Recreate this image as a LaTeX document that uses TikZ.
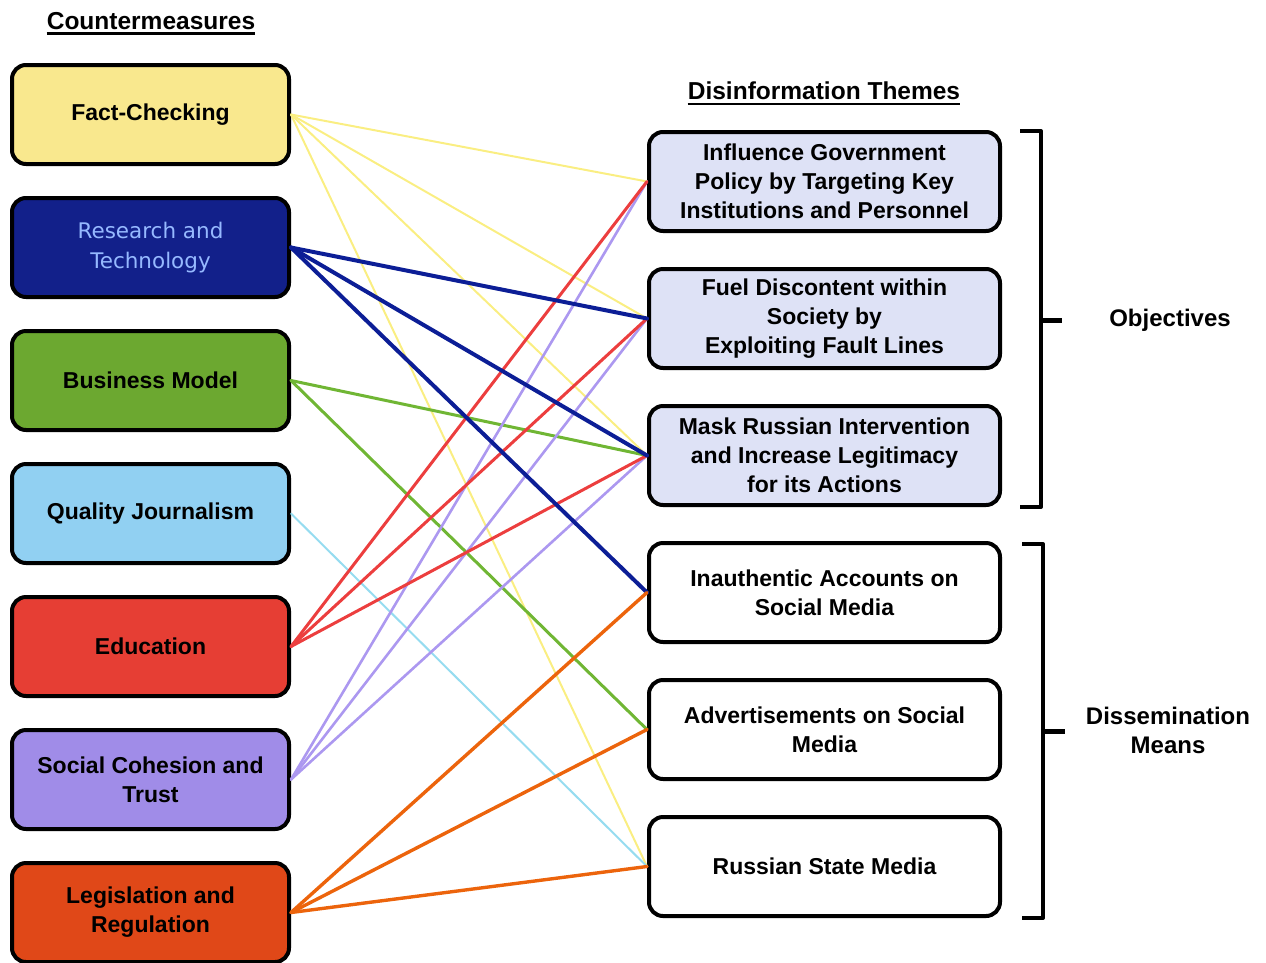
\documentclass[tikz,border=0pt]{standalone}
\usepackage{fontspec}
\setmainfont{Liberation Sans}
\newfontfamily\lightfont{DejaVu Sans}
\definecolor{cfact}{RGB}{249,232,142}
\definecolor{cres}{RGB}{18,32,138}
\definecolor{crestext}{RGB}{150,185,255}
\definecolor{cbus}{RGB}{108,168,48}
\definecolor{cqual}{RGB}{145,208,242}
\definecolor{cedu}{RGB}{230,62,52}
\definecolor{csoc}{RGB}{160,140,232}
\definecolor{cleg}{RGB}{224,72,24}
\definecolor{cobj}{RGB}{222,226,246}
\definecolor{lyel}{RGB}{250,238,130}
\definecolor{lblue}{RGB}{12,30,150}
\definecolor{lgreen}{RGB}{112,182,52}
\definecolor{lcyan}{RGB}{150,220,240}
\definecolor{lred}{RGB}{236,62,62}
\definecolor{llav}{RGB}{172,152,240}
\definecolor{lorange}{RGB}{236,100,12}
\begin{document}
\begin{tikzpicture}[x=1pt,y=-1pt,
  box/.style={draw=black, line width=4pt, rounded corners=14pt,
    minimum width=277pt, minimum height=99pt, align=center, inner sep=2pt,
    font=\bfseries\fontsize{23}{29}\selectfont},
  theme/.style={box, minimum width=351pt},
  title/.style={inner sep=0pt, font=\bfseries\fontsize{24.5}{29}\selectfont},
  side/.style={align=center, inner sep=0pt, font=\bfseries\fontsize{24}{29}\selectfont},
  link/.style={line cap=round},
  bracket/.style={line width=4pt, line join=round}
]
\useasboundingbox (0,0) rectangle (1266,962);

% headings
\node[title] (cmt) at (151,21) {Countermeasures};
\draw[line width=2.4pt] ([yshift=-4pt]cmt.base west) -- ([yshift=-4pt]cmt.base east);
\node[title] (dst) at (824,91) {Disinformation Themes};
\draw[line width=2.4pt] ([yshift=-4pt]dst.base west) -- ([yshift=-4pt]dst.base east);

% countermeasures
\node[box, fill=cfact] (fact) at (150.5,114.5) {Fact-Checking};
\node[box, fill=cres, text=crestext, font=\lightfont\fontsize{21.5}{30}\selectfont] (res) at (150.5,247.5) {Research and\\Technology};
\node[box, fill=cbus] (bus) at (150.5,380.5) {Business Model};
\node[box, fill=cqual] (qual) at (150.5,513.5) {Quality Journalism};
\node[box, fill=cedu] (edu) at (150.5,646.5) {Education};
\node[box, fill=csoc] (soc) at (150.5,779.5) {Social Cohesion and\\Trust};
\node[box, fill=cleg] (leg) at (150.5,912.5) {Legislation and\\Regulation};

% disinformation themes
\node[theme, fill=cobj] (infl) at (824.5,181.5) {Influence Government\\Policy by Targeting Key\\Institutions and Personnel};
\node[theme, fill=cobj] (fuel) at (824.5,318.5) {Fuel Discontent within\\Society by\\Exploiting Fault Lines};
\node[theme, fill=cobj] (mask) at (824.5,455.5) {Mask Russian Intervention\\and Increase Legitimacy\\for its Actions};
\node[theme, fill=white] (inau) at (824.5,592.5) {Inauthentic Accounts on\\Social Media};
\node[theme, fill=white] (ads) at (824.5,729.5) {Advertisements on Social\\Media};
\node[theme, fill=white] (rsm) at (824.5,866.5) {Russian State Media};

% brackets and their labels
\draw[bracket] (1020,131) -- (1041,131) -- (1041,507) -- (1020,507);
\draw[line width=5pt] (1041,320) -- (1062,320);
\node[side] (obj) at (1170,320) {Objectives};
\draw[bracket] (1022,544) -- (1043,544) -- (1043,918) -- (1022,918);
\draw[line width=5pt] (1043,731) -- (1065,731);
\node[side] (dis) at (1168,730) {Dissemination\\Means};

% connectors
\foreach \t in {infl,fuel,mask,rsm}
  \draw[link, lyel, line width=2pt] (fact.east) -- (\t.west);
\draw[link, lcyan, line width=2pt] (qual.east) -- (rsm.west);
\foreach \t in {mask,ads}
  \draw[link, lgreen, line width=3pt] (bus.east) -- (\t.west);
\foreach \t in {infl,fuel,mask}
  \draw[link, llav, line width=2.6pt] (soc.east) -- (\t.west);
\foreach \t in {infl,fuel,mask}
  \draw[link, lred, line width=3pt] (edu.east) -- (\t.west);
\foreach \t in {fuel,mask,inau}
  \draw[link, lblue, line width=4pt] (res.east) -- (\t.west);
\foreach \t in {inau,ads,rsm}
  \draw[link, lorange, line width=3.4pt] (leg.east) -- (\t.west);
\end{tikzpicture}
\end{document}
